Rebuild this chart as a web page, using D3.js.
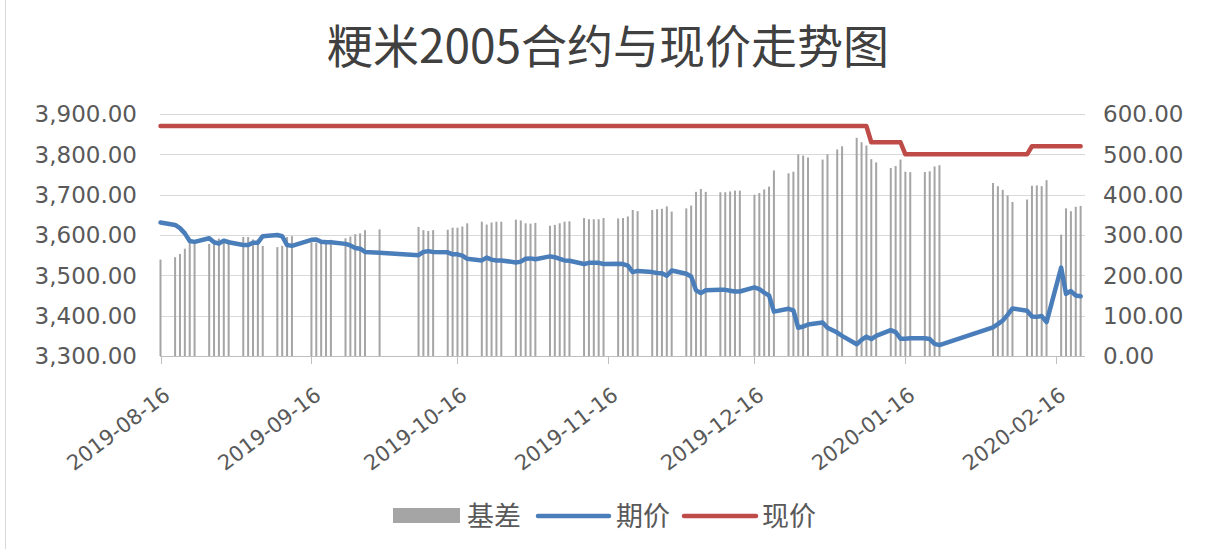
<!DOCTYPE html>
<html>
<head>
<meta charset="utf-8">
<script src="https://cdn.jsdelivr.net/npm/d3@7"></script>
<style>
  body { margin: 0; background: #fff; }
  svg { display: block; }
</style>
</head>
<body>
<div id="chart"></div>
<script>
// trading days
var dates = [
  "2019-08-16","2019-08-19","2019-08-20","2019-08-21","2019-08-22","2019-08-23","2019-08-26","2019-08-27","2019-08-28","2019-08-29","2019-08-30",
  "2019-09-02","2019-09-03","2019-09-04","2019-09-05","2019-09-06","2019-09-09","2019-09-10","2019-09-11","2019-09-12","2019-09-16",
  "2019-09-17","2019-09-18","2019-09-19","2019-09-20","2019-09-23","2019-09-24","2019-09-25","2019-09-26","2019-09-27","2019-09-30",
  "2019-10-08","2019-10-09","2019-10-10","2019-10-11","2019-10-14","2019-10-15","2019-10-16","2019-10-17","2019-10-18",
  "2019-10-21","2019-10-22","2019-10-23","2019-10-24","2019-10-25","2019-10-28","2019-10-29","2019-10-30","2019-10-31",
  "2019-11-01","2019-11-04","2019-11-05","2019-11-06","2019-11-07","2019-11-08","2019-11-11","2019-11-12","2019-11-13","2019-11-14","2019-11-15",
  "2019-11-18","2019-11-19","2019-11-20","2019-11-21","2019-11-22","2019-11-25","2019-11-26","2019-11-27","2019-11-28","2019-11-29",
  "2019-12-02","2019-12-03","2019-12-04","2019-12-05","2019-12-06","2019-12-09","2019-12-10","2019-12-11","2019-12-12","2019-12-13",
  "2019-12-16","2019-12-17","2019-12-18","2019-12-19","2019-12-20","2019-12-23","2019-12-24","2019-12-25","2019-12-26","2019-12-27","2019-12-30","2019-12-31",
  "2020-01-02","2020-01-03","2020-01-06","2020-01-07","2020-01-08","2020-01-09","2020-01-10","2020-01-13","2020-01-14","2020-01-15","2020-01-16","2020-01-17",
  "2020-01-20","2020-01-21","2020-01-22","2020-01-23",
  "2020-02-03","2020-02-04","2020-02-05","2020-02-06","2020-02-07","2020-02-10","2020-02-11","2020-02-12","2020-02-13","2020-02-14",
  "2020-02-17","2020-02-18","2020-02-19","2020-02-20","2020-02-21"
];

// 期价
var futures = [
  3631,3625,3617,3604,3585,3583,3592,3582,3579,3586,3582,
  3575,3575,3581,3581,3597,3600,3597,3575,3573,3588,3589,3583,3582,3582,3578,3574,3568,3566,3558,3556,
  3550,3558,3560,3558,3557,3552,3552,3549,3541,3537,3544,3539,3537,3537,3532,3534,3541,3542,
  3540,3547,3545,3541,3537,3536,3528,3531,3531,3531,3528,3529,3528,3524,3508,3511,3508,3506,3505,3499,3512,
  3504,3497,3463,3456,3463,3464,3464,3462,3460,3460,3470,3466,3457,3450,3410,3417,3413,3370,3373,3378,3383,3370,
  3358,3350,3329,3340,3348,3342,3350,3364,3359,3343,3343,3344,3344,3342,3330,3327,
  3371,3379,3388,3402,3418,3412,3398,3397,3399,3384,3519,3454,3461,3450,3448
];

// 现价
var spot = [
  3870,3870,3870,3870,3870,3870,3870,3870,3870,3870,3870,
  3870,3870,3870,3870,3870,3870,3870,3870,3870,3870,3870,3870,3870,3870,3870,3870,3870,3870,3870,3870,
  3870,3870,3870,3870,3870,3870,3870,3870,3870,3870,3870,3870,3870,3870,3870,3870,3870,3870,
  3870,3870,3870,3870,3870,3870,3870,3870,3870,3870,3870,3870,3870,3870,3870,3870,3870,3870,3870,3870,3870,
  3870,3870,3870,3870,3870,3870,3870,3870,3870,3870,3870,3870,3870,3870,3870,3870,3870,3870,3870,3870,3870,3870,
  3870,3870,3870,3870,3870,3830,3830,3830,3830,3830,3800,3800,3800,3800,3800,3800,
  3800,3800,3800,3800,3800,3800,3820,3820,3820,3820,3820,3820,3820,3820,3820
];

// 基差
var basis = [
  239,245,253,266,285,287,278,288,291,284,288,
  295,295,289,289,273,270,273,295,297,282,281,287,288,288,292,296,302,304,312,314,
  320,312,310,312,313,318,318,321,329,333,326,331,333,333,338,336,329,328,
  330,323,325,329,333,334,342,339,339,339,342,341,342,346,362,359,362,364,365,371,358,
  366,373,407,414,407,406,406,408,410,410,400,404,413,420,460,453,457,500,497,492,487,500,
  512,520,541,530,522,488,480,466,471,487,457,456,456,458,470,473,
  429,421,412,398,382,388,422,423,421,436,301,366,359,370,372
];

var xTickLabels = ["2019-08-16","2019-09-16","2019-10-16","2019-11-16","2019-12-16","2020-01-16","2020-02-16"];
var leftTicks = [3300, 3400, 3500, 3600, 3700, 3800, 3900];
var rightTicks = [0, 100, 200, 300, 400, 500, 600];

var W = 1210, H = 549;
var parse = d3.utcParse("%Y-%m-%d");
var fmt = d3.format(",.2f");

var svg = d3.select("#chart").append("svg").attr("width", W).attr("height", H);
svg.append("rect").attr("width", W).attr("height", H).attr("fill", "#fff");
svg.append("line").attr("x1", 5.5).attr("x2", 5.5).attr("y1", 0).attr("y2", H)
  .attr("stroke", "#d9d9d9").attr("stroke-width", 1);

var x = d3.scaleUtc().domain([parse("2019-08-16"), parse("2020-02-22")]).range([160.5, 1085.5]);
var yL = d3.scaleLinear().domain([3300, 3900]).range([356, 114]);
var yR = d3.scaleLinear().domain([0, 600]).range([356, 114]);

// title
svg.append("text").attr("x", 608).attr("y", 63).attr("text-anchor", "middle")
  .attr("font-family", "'Noto Sans CJK SC'").attr("font-size", 46).attr("fill", "#404040")
  .text("粳米2005合约与现价走势图");

// gridlines
svg.append("g").selectAll("line").data(leftTicks.slice(1)).enter().append("line")
  .attr("x1", 160).attr("x2", 1085)
  .attr("y1", d => Math.round(yL(d)) + 0.5).attr("y2", d => Math.round(yL(d)) + 0.5)
  .attr("stroke", "#d9d9d9").attr("stroke-width", 1);

// left axis labels
svg.append("g").selectAll("text").data(leftTicks).enter().append("text")
  .attr("x", 137).attr("y", d => yL(d)).attr("dy", "0.36em").attr("text-anchor", "end")
  .attr("font-family", "'DejaVu Sans'").attr("font-size", 23).attr("fill", "#595959")
  .text(d => fmt(d));

// right axis labels
svg.append("g").selectAll("text").data(rightTicks).enter().append("text")
  .attr("x", 1103).attr("y", d => yR(d)).attr("dy", "0.36em").attr("text-anchor", "start")
  .attr("font-family", "'DejaVu Sans'").attr("font-size", 23).attr("fill", "#595959")
  .text(d => fmt(d));

// bars (基差)
var rows = dates.map((d, i) => ({ date: parse(d), f: futures[i], s: spot[i], b: basis[i] }));
svg.append("g").selectAll("rect").data(rows.filter(r => r.b != null)).enter().append("rect")
  .attr("x", r => x(r.date) - 1)
  .attr("y", r => yR(r.b))
  .attr("width", 2)
  .attr("height", r => yR(0) - yR(r.b))
  .attr("fill", "#a5a5a5");

// x axis line and ticks
svg.append("line").attr("x1", 160).attr("x2", 1085).attr("y1", 356.5).attr("y2", 356.5)
  .attr("stroke", "#bfbfbf").attr("stroke-width", 1);
svg.append("g").selectAll("line").data(xTickLabels).enter().append("line")
  .attr("x1", d => Math.round(x(parse(d))) + 0.5).attr("x2", d => Math.round(x(parse(d))) + 0.5)
  .attr("y1", 356).attr("y2", 364)
  .attr("stroke", "#bfbfbf").attr("stroke-width", 1);
svg.append("g").selectAll("text").data(xTickLabels).enter().append("text")
  .attr("transform", d => "translate(" + (x(parse(d)) + 11) + ",398) rotate(-37)")
  .attr("text-anchor", "end")
  .attr("font-family", "'DejaVu Sans'").attr("font-size", 21).attr("fill", "#595959")
  .text(d => d);

// lines
var lineF = d3.line().x(r => x(r.date)).y(r => yL(r.f));
var lineS = d3.line().x(r => x(r.date)).y(r => yL(r.s));
svg.append("path").datum(rows).attr("d", lineF).attr("fill", "none")
  .attr("stroke", "#4a7ebb").attr("stroke-width", 4.5).attr("stroke-linejoin", "round").attr("stroke-linecap", "round");
svg.append("path").datum(rows).attr("d", lineS).attr("fill", "none")
  .attr("stroke", "#be4b48").attr("stroke-width", 4.5).attr("stroke-linejoin", "round").attr("stroke-linecap", "round");

// legend
var lg = svg.append("g").attr("font-family", "'Noto Sans CJK SC'").attr("font-size", 27).attr("fill", "#595959");
lg.append("rect").attr("x", 393).attr("y", 508).attr("width", 67).attr("height", 15).attr("fill", "#a5a5a5");
lg.append("text").attr("x", 467).attr("y", 526).text("基差");
lg.append("line").attr("x1", 538).attr("x2", 609).attr("y1", 516).attr("y2", 516)
  .attr("stroke", "#4a7ebb").attr("stroke-width", 4.5).attr("stroke-linecap", "round");
lg.append("text").attr("x", 616).attr("y", 526).text("期价");
lg.append("line").attr("x1", 684).attr("x2", 756).attr("y1", 516).attr("y2", 516)
  .attr("stroke", "#be4b48").attr("stroke-width", 4.5).attr("stroke-linecap", "round");
lg.append("text").attr("x", 762).attr("y", 526).text("现价");
</script>
</body>
</html>
